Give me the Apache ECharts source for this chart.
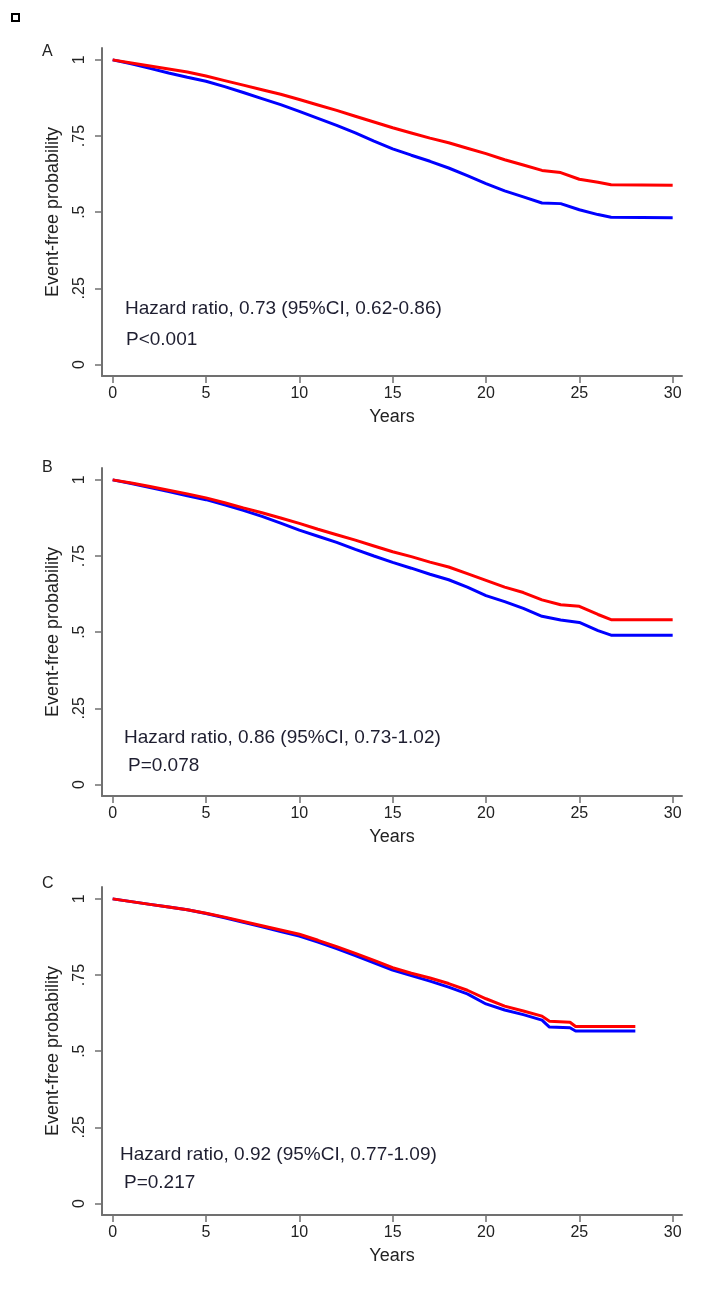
<!DOCTYPE html>
<html>
<head>
<meta charset="utf-8">
<script src="https://cdn.jsdelivr.net/npm/echarts@6/dist/echarts.min.js"></script>
<style>
  html, body { margin: 0; padding: 0; background: #fff; }
  #chart { width: 709px; height: 1296px; }
</style>
</head>
<body>
<div id="chart"></div>
<script>
// tick labels
const yearTicks = [0, 5, 10, 15, 20, 25, 30]
const probTicks = [0, 0.25, 0.5, 0.75, 1]

// panel texts
const panelLetters = ['A', 'B', 'C']
const hazardTexts = [
  'Hazard ratio, 0.73 (95%CI, 0.62-0.86)',
  'Hazard ratio, 0.86 (95%CI, 0.73-1.02)',
  'Hazard ratio, 0.92 (95%CI, 0.77-1.09)'
]
const pTexts = ['P<0.001', 'P=0.078', 'P=0.217']

// panel A
const timeA = [0, 1, 2, 3, 4, 5, 6, 7, 8, 9, 10, 11, 12, 13, 14, 15, 16, 17, 18, 19, 20, 21, 22, 23, 24, 25, 26, 26.7, 30]
const redA = [1, 0.99, 0.98, 0.97, 0.96, 0.947, 0.932, 0.917, 0.902, 0.887, 0.87, 0.852, 0.834, 0.815, 0.796, 0.777, 0.76, 0.743, 0.728, 0.71, 0.692, 0.672, 0.655, 0.637, 0.63, 0.608, 0.598, 0.59, 0.588]
const blueA = [1, 0.987, 0.972, 0.957, 0.943, 0.93, 0.912, 0.893, 0.873, 0.853, 0.831, 0.808, 0.785, 0.76, 0.733, 0.708, 0.687, 0.667, 0.645, 0.62, 0.594, 0.57, 0.55, 0.53, 0.528, 0.508, 0.492, 0.483, 0.482]

// panel B
const timeB = [0, 1, 2, 3, 4, 5, 6, 7, 8, 9, 10, 11, 12, 13, 14, 15, 16, 17, 18, 19, 20, 21, 22, 23, 24, 25, 26, 26.7, 30]
const redB = [1, 0.99, 0.978, 0.966, 0.954, 0.941, 0.925, 0.908, 0.892, 0.875, 0.857, 0.838, 0.82, 0.802, 0.783, 0.764, 0.748, 0.73, 0.714, 0.692, 0.67, 0.648, 0.63, 0.606, 0.59, 0.585, 0.558, 0.541, 0.541]
const blueB = [1, 0.988, 0.975, 0.962, 0.948, 0.935, 0.918, 0.9, 0.88, 0.858, 0.835, 0.815, 0.795, 0.772, 0.75, 0.729, 0.71, 0.69, 0.672, 0.648, 0.62, 0.6, 0.578, 0.552, 0.54, 0.532, 0.505, 0.49, 0.49]

// panel C
const timeC = [0, 1, 2, 3, 4, 5, 6, 7, 8, 9, 10, 11, 12, 13, 14, 15, 16, 17, 18, 19, 20, 21, 22, 23, 23.4, 24.5, 24.8, 28]
const redC = [1, 0.991, 0.982, 0.973, 0.964, 0.953, 0.94, 0.926, 0.912, 0.898, 0.884, 0.864, 0.843, 0.821, 0.798, 0.774, 0.756, 0.74, 0.722, 0.7, 0.672, 0.648, 0.632, 0.615, 0.598, 0.595, 0.581, 0.581]
const blueC = [1, 0.991, 0.982, 0.973, 0.964, 0.952, 0.938, 0.923, 0.908, 0.893, 0.878, 0.858, 0.837, 0.814, 0.79, 0.766, 0.748, 0.73, 0.71, 0.688, 0.655, 0.635, 0.62, 0.602, 0.579, 0.577, 0.566, 0.566]

const panels = [
  { time: timeA, red: redA, blue: blueA },
  { time: timeB, red: redB, blue: blueB },
  { time: timeC, red: redC, blue: blueC }
]

const gridTops = [48, 468, 887]
const FONT = '"Liberation Sans", Arial, sans-serif'
const axisColor = '#707070'
const textColor = '#222'

const pairs = (t, v) => t.map((x, i) => [x, v[i]])
const probLabel = v => (v === 0 || v === 1) ? String(v) : String(v).replace(/^0/, '')

const grid = [], xAxis = [], yAxis = [], series = [], graphic = []

panels.forEach((p, i) => {
  grid.push({ left: 102, width: 580, top: gridTops[i], height: 328 })

  xAxis.push({
    type: 'value', gridIndex: i, min: -0.57, max: 30.5,
    name: 'Years', nameLocation: 'middle', nameGap: 32,
    nameTextStyle: { fontFamily: FONT, fontSize: 18, color: textColor },
    axisLine: { onZero: false, lineStyle: { color: axisColor, width: 2 } },
    axisTick: { length: 7, lineStyle: { color: axisColor, width: 1.5 }, customValues: yearTicks },
    axisLabel: { margin: 10, fontFamily: FONT, fontSize: 16, color: textColor, customValues: yearTicks },
    splitLine: { show: false }
  })

  yAxis.push({
    type: 'value', gridIndex: i, min: -0.038, max: 1.039,
    name: 'Event-free probability', nameLocation: 'middle', nameGap: 40, nameRotate: 90,
    nameTextStyle: { fontFamily: FONT, fontSize: 18, color: textColor },
    axisLine: { show: true, onZero: false, lineStyle: { color: axisColor, width: 2 } },
    axisTick: { show: true, length: 7, lineStyle: { color: axisColor, width: 1.5 }, customValues: probTicks },
    axisLabel: { rotate: 90, margin: 14, fontFamily: FONT, fontSize: 16, color: textColor,
      customValues: probTicks, formatter: probLabel },
    splitLine: { show: false }
  })

  series.push({
    type: 'line', xAxisIndex: i, yAxisIndex: i, data: pairs(p.time, p.blue),
    showSymbol: false, lineStyle: { color: '#0000ff', width: 3 }, itemStyle: { color: '#0000ff' }
  })
  series.push({
    type: 'line', xAxisIndex: i, yAxisIndex: i, data: pairs(p.time, p.red),
    showSymbol: false, lineStyle: { color: '#ff0000', width: 3 }, itemStyle: { color: '#ff0000' }
  })
})

const letterPos = [[42, 52], [42, 468], [42, 884]]
const hazardPos = [[125, 309], [124, 738], [120, 1155]]
const pPos = [[126, 340], [128, 766], [124, 1183]]

panelLetters.forEach((l, i) => {
  graphic.push({ type: 'text', x: letterPos[i][0], y: letterPos[i][1],
    style: { text: l, font: '16px ' + FONT, fill: textColor, verticalAlign: 'middle' } })
  graphic.push({ type: 'text', x: hazardPos[i][0], y: hazardPos[i][1],
    style: { text: hazardTexts[i], font: '19px ' + FONT, fill: '#1e1e30', verticalAlign: 'middle' } })
  graphic.push({ type: 'text', x: pPos[i][0], y: pPos[i][1],
    style: { text: pTexts[i], font: '19px ' + FONT, fill: '#1e1e30', verticalAlign: 'middle' } })
})

// small marker square at top-left
graphic.push({ type: 'rect', shape: { x: 12, y: 14, width: 7, height: 7 },
  style: { fill: '#fff', stroke: '#000', lineWidth: 2 } })

const chart = echarts.init(document.getElementById('chart'), null, { renderer: 'canvas' })
chart.setOption({
  backgroundColor: '#fff',
  animation: false,
  grid, xAxis, yAxis, series, graphic
})
</script>
</body>
</html>
